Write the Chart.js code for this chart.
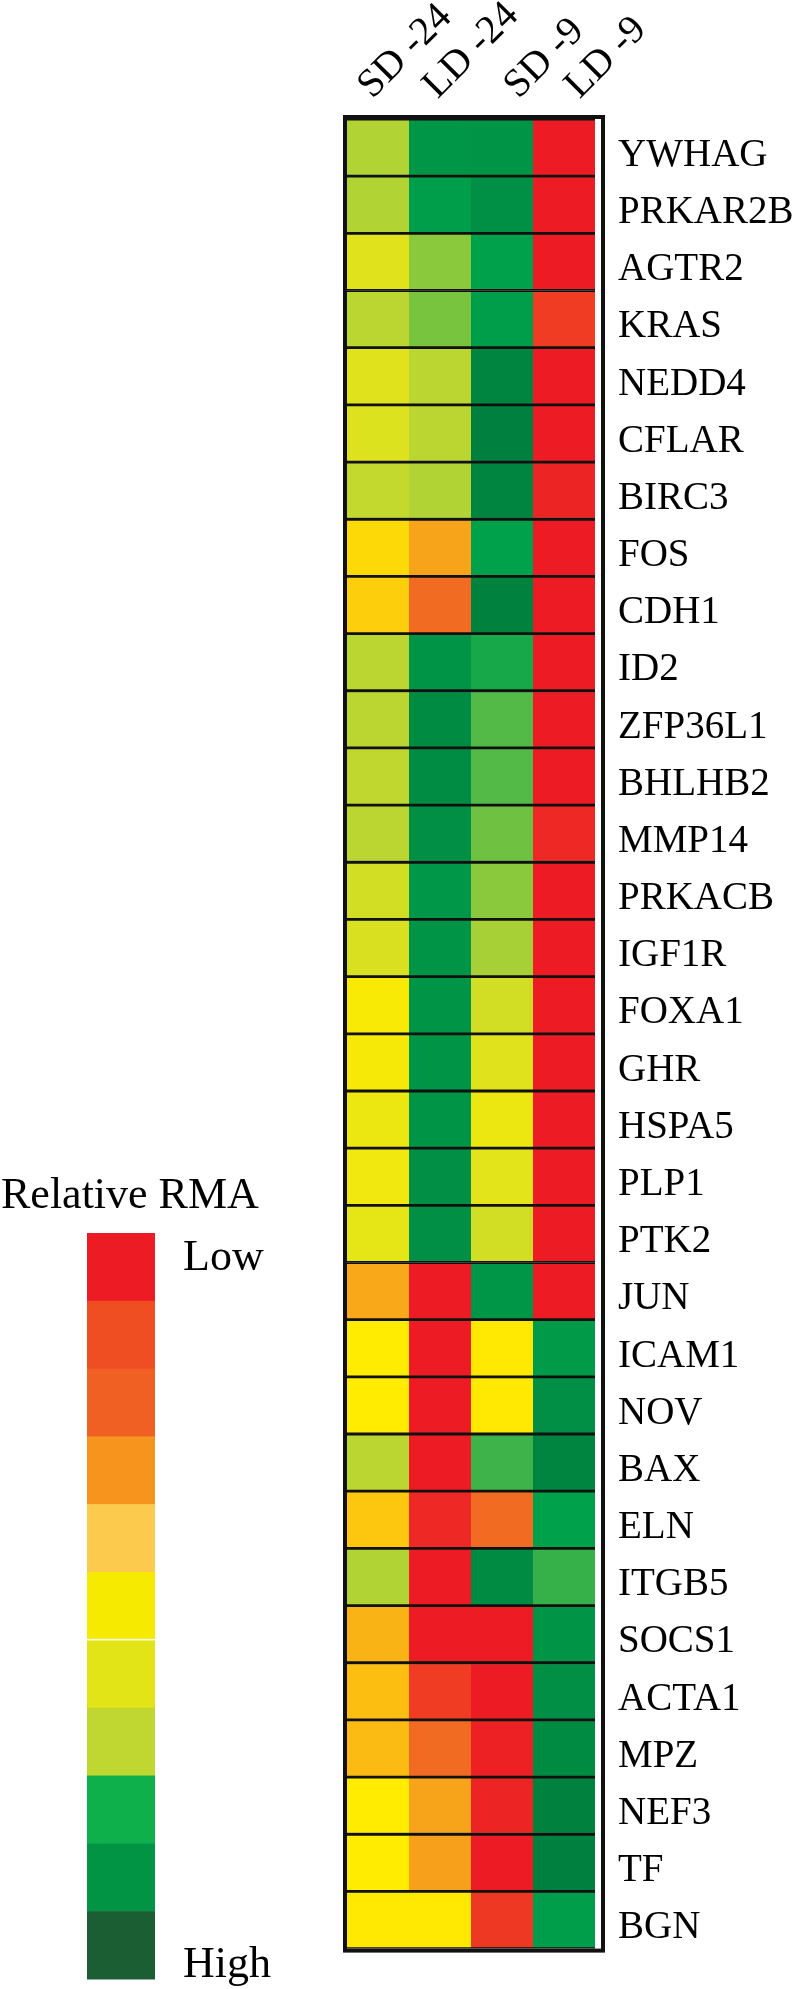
<!DOCTYPE html>
<html><head><meta charset="utf-8">
<script src="https://cdn.jsdelivr.net/npm/chart.js@4.4.0/dist/chart.umd.min.js"></script>
<style>html,body{margin:0;padding:0;background:#fff}#wrap{width:798px;height:1989px;position:relative}</style>
</head><body><div id="wrap"><canvas id="c"></canvas></div>
<script>
// ---- data ----
const genes = ['YWHAG','PRKAR2B','AGTR2','KRAS','NEDD4','CFLAR','BIRC3','FOS','CDH1','ID2','ZFP36L1','BHLHB2','MMP14','PRKACB','IGF1R','FOXA1','GHR','HSPA5','PLP1','PTK2','JUN','ICAM1','NOV','BAX','ELN','ITGB5','SOCS1','ACTA1','MPZ','NEF3','TF','BGN'];
const columns = ['SD -24','LD -24','SD -9','LD -9'];
// relative RMA level: 1 = Low (red) ... 11 = High (dark green)
const sd24 = [8.1,8.1,7.0,8.0,7.0,7.1,7.8,5.5,5.2,8.0,8.0,7.9,8.0,7.4,7.2,6.2,6.3,6.6,6.5,6.8,4.2,6.0,6.0,8.0,5.0,8.1,4.5,4.8,4.7,6.0,6.0,5.9];
const ld24 = [10.3,10.1,8.45,8.6,8.0,8.0,8.1,4.1,3.0,10.35,10.6,10.55,10.5,10.25,10.35,10.35,10.35,10.35,10.5,10.5,1,1,1,1,1.3,1,1,1.8,3.0,4.1,4.0,5.9];
const sd9  = [10.35,10.45,10.0,10.1,10.75,10.9,10.75,10.0,10.85,9.7,8.95,8.95,8.7,8.45,8.2,7.4,7.0,6.6,6.9,7.4,10.3,5.9,5.9,9.2,3.0,10.6,1,1,1.1,1.2,1,1.7];
const ld9  = [1,1,1,1.8,1,1,1.2,1,1,1,1,1,1.3,1,1,1,1,1,1,1,1,10.2,10.5,10.75,10.0,9.3,10.35,10.5,10.6,10.85,10.9,10.1];
const series = [sd24, ld24, sd9, ld9];
// colour scale stops for level 1..11
const heatStops = ['#ED1C24','#EF4423','#F26B22','#F7A01B','#FDC60F','#FFEC00','#E0E31C','#BCD631','#4DB848','#00A14B','#007C3D'];
// legend swatches, Low -> High
const legendColors = ['#ED1C24','#EF4E23','#F16023','#F7941D','#FCCB4E','#F5EA00','#E2E418','#BFD730','#0DB04B','#009444','#1B5E33'];
const legendTitle = 'Relative RMA';
const legendLow = 'Low';
const legendHigh = 'High';

// ---- helpers ----
function hexToRgb(h){return [parseInt(h.slice(1,3),16),parseInt(h.slice(3,5),16),parseInt(h.slice(5,7),16)];}
function heatColor(v){
  const n = heatStops.length;
  const p = Math.min(Math.max(v-1,0),n-1);
  const i = Math.min(Math.floor(p), n-2);
  const t = p - i;
  const a = hexToRgb(heatStops[i]), b = hexToRgb(heatStops[i+1]);
  const c = a.map((x,k)=>Math.round(x+(b[k]-x)*t));
  return 'rgb('+c.join(',')+')';
}

const SERIF = '"Liberation Serif","Times New Roman",serif';
// header label anchor nudges (in column units) so labels sit as in the original
const headerNudge = [0.11, 0.16, 0.47, 0.45];

const frame = {
  id:'frame',
  afterDatasetsDraw(chart){
    const {ctx, chartArea:ca} = chart;
    ctx.save();
    ctx.strokeStyle = '#111';
    ctx.lineWidth = 4;
    ctx.strokeRect(ca.left-2, ca.top-2, ca.right-ca.left+4, ca.bottom-ca.top+4);
    ctx.restore();
  }
};

const colorLegend = {
  id:'colorLegend',
  afterDraw(chart){
    const ctx = chart.ctx;
    ctx.save();
    ctx.fillStyle = '#000';
    ctx.font = '44px ' + SERIF;
    ctx.textBaseline = 'alphabetic';
    ctx.textAlign = 'left';
    ctx.fillText(legendTitle, 1, 1208);
    const x = 87, w = 68, top = 1233, bottom = 1979;
    const h = (bottom - top) / legendColors.length;
    legendColors.forEach((c,i)=>{
      ctx.fillStyle = c;
      ctx.fillRect(x, top + i*h, w, h + 0.5);
    });
    ctx.fillStyle = '#fff';
    ctx.fillRect(x, top + 6*h - 1, w, 1.5);
    ctx.fillStyle = '#000';
    ctx.fillText(legendLow, 183, 1270);
    ctx.fillText(legendHigh, 183, 1977);
    ctx.restore();
  }
};

new Chart(document.getElementById('c'), {
  type:'bar',
  data:{
    labels: genes,
    datasets: columns.map((name,ci)=>({
      label: name,
      data: genes.map(()=>1),
      backgroundColor: series[ci].map(heatColor),
      borderColor:'#111',
      borderWidth:{top:1.75,bottom:1.75,left:0,right:0},
      borderSkipped:false,
      categoryPercentage:1,
      barPercentage:1
    }))
  },
  options:{
    indexAxis:'y',
    responsive:true,
    maintainAspectRatio:false,
    animation:false,
    devicePixelRatio:1,
    layout:{padding:{left:347,right:0,top:0,bottom:8}},
    plugins:{legend:{display:false},tooltip:{enabled:false}},
    scales:{
      x:{
        type:'linear', position:'top', stacked:true, min:0, max:4.0968,
        grid:{display:false}, border:{display:false},
        afterBuildTicks:(s)=>{ s.ticks = columns.map((_,i)=>({value:i+0.5+headerNudge[i]})); },
        afterFit:(s)=>{ s.height = 119; },
        ticks:{
          autoSkip:false, minRotation:45, maxRotation:45, padding:2, labelOffset:14,
          color:'#000', font:{family:SERIF, size:40},
          callback:(v,i)=>columns[i]
        }
      },
      y:{
        type:'category', position:'right', stacked:true,
        grid:{display:false, drawTicks:false}, border:{display:false},
        afterFit:(s)=>{ s.width = 197; },
        ticks:{autoSkip:false, padding:17, labelOffset:8, color:'#000', font:{family:SERIF, size:39}}
      }
    }
  },
  plugins:[frame, colorLegend]
});
</script>
</body></html>
